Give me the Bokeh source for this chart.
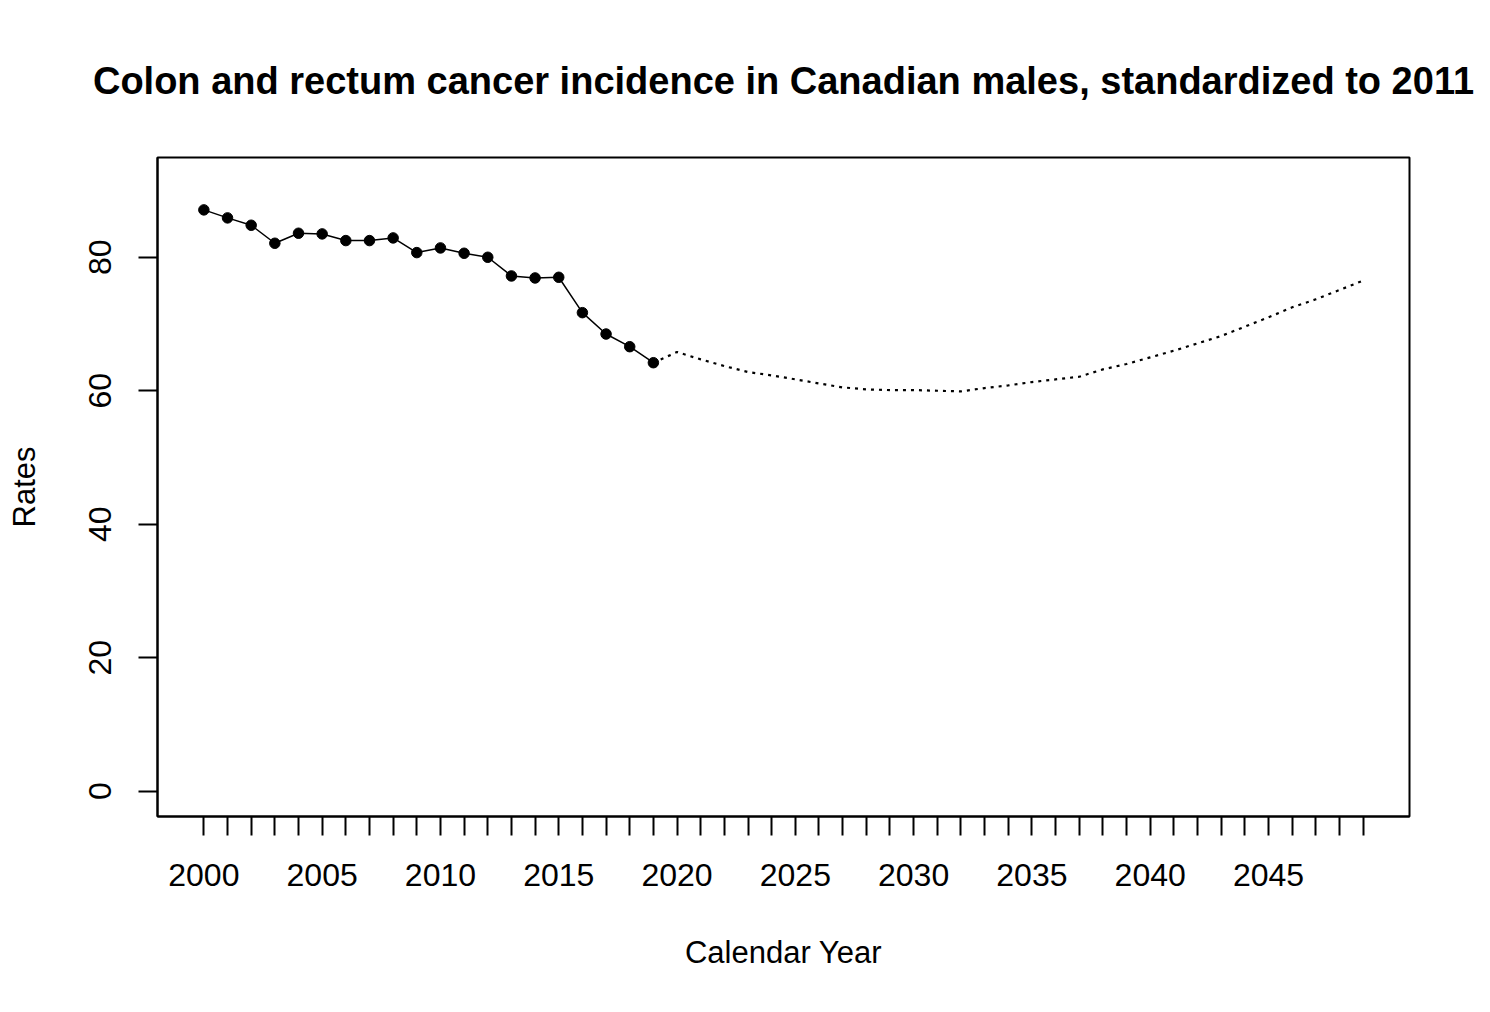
from bokeh.plotting import figure
from bokeh.models import Range1d, FixedTicker
from bokeh.embed import file_html
from bokeh.resources import INLINE

# Observed incidence rates
obs_years = list(range(2000, 2020))
obs_rates = [87.1, 85.9, 84.8, 82.1, 83.6, 83.5, 82.5, 82.5, 82.9, 80.7,
             81.4, 80.6, 80.0, 77.2, 76.9, 77.0, 71.7, 68.5, 66.6, 64.2]

# Projected rates (dotted)
proj_years = list(range(2019, 2050))
proj_rates = [64.2, 65.8, 64.7, 63.7, 62.8, 62.3, 61.7, 61.1, 60.5, 60.2,
              60.1, 60.1, 60.0, 59.9, 60.4, 60.8, 61.3, 61.7, 62.1, 63.2,
              64.0, 65.0, 66.0, 67.1, 68.2, 69.6, 71.0, 72.5, 73.7, 75.1, 76.5]

x_ticks = list(range(2000, 2050))
x_tick_labels = [str(y) if y % 5 == 0 else "" for y in x_ticks]
y_ticks = [0, 20, 40, 60, 80]

title_text = "Colon and rectum cancer incidence in Canadian males, standardized to 2011"
font = "Liberation Sans"

p = figure(width=1474, height=996,
           x_range=Range1d(1998.04, 2050.96), y_range=Range1d(-3.8, 94.95),
           output_backend="svg", toolbar_location=None,
           title=title_text,
           min_border_left=157, min_border_right=65,
           min_border_top=157, min_border_bottom=180)

p.background_fill_color = "white"
p.border_fill_color = "white"
p.grid.visible = False
p.outline_line_color = "black"
p.outline_line_width = 2

p.title.text_font = font
p.title.text_font_size = "38px"
p.title.text_font_style = "bold"
p.title.align = "center"
p.title.text_color = "black"
p.title.standoff = 112

p.xaxis.ticker = FixedTicker(ticks=x_ticks)
p.xaxis.major_label_overrides = {y: lab for y, lab in zip(x_ticks, x_tick_labels)}
p.yaxis.ticker = FixedTicker(ticks=y_ticks)
p.yaxis.major_label_orientation = "vertical"

for ax in (p.xaxis, p.yaxis):
    ax.axis_line_color = "black"
    ax.axis_line_width = 2
    ax.major_tick_in = 0
    ax.major_tick_out = 19
    ax.major_tick_line_width = 2
    ax.major_tick_line_color = "black"
    ax.minor_tick_in = 0
    ax.minor_tick_out = 0
    ax.major_label_text_font = font
    ax.major_label_text_font_size = "32px"
    ax.major_label_text_color = "black"
    ax.axis_label_text_font = font
    ax.axis_label_text_font_size = "31px"
    ax.axis_label_text_font_style = "normal"
    ax.axis_label_text_color = "black"

p.xaxis.axis_label = "Calendar Year"
p.yaxis.axis_label = "Rates"
p.xaxis.major_label_standoff = 28
p.xaxis.axis_label_standoff = 46
p.yaxis.major_label_standoff = 27
p.yaxis.axis_label_standoff = 45

p.line(proj_years, proj_rates, line_color="black", line_width=2.2,
       line_dash="3 5")
p.line(obs_years, obs_rates, line_color="black", line_width=1.5)
p.scatter(obs_years, obs_rates, size=10.5, marker="circle",
          fill_color="black", line_color="black")

open("out.html", "w").write(file_html(p, INLINE))
